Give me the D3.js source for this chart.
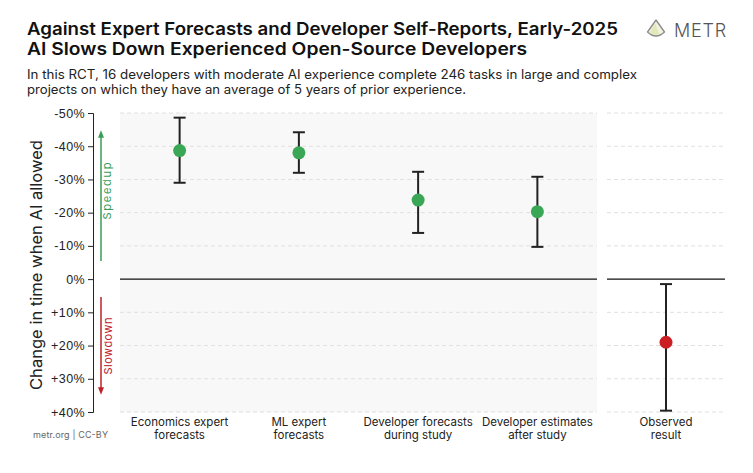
<!DOCTYPE html>
<html>
<head>
<meta charset="utf-8">
<script src="https://cdn.jsdelivr.net/npm/d3@7"></script>
<style>
  body { margin: 0; background: #fff; }
  svg { font-family: "Inter", "Noto Sans", sans-serif; }
</style>
</head>
<body>
<svg width="753" height="473"></svg>
<script>
// forecasts / estimates (negative = speedup)
var categories = ["Economics expert\nforecasts", "ML expert\nforecasts", "Developer forecasts\nduring study", "Developer estimates\nafter study"];
var values = [-38.7, -38.0, -23.8, -20.3];
var lows = [-48.6, -44.2, -32.3, -30.8];
var highs = [-29.0, -32.0, -13.9, -9.7];

// observed result
var obsCategory = ["Observed\nresult"];
var obsValue = [19];
var obsLow = [1.5];
var obsHigh = [39.6];

var yTicks = [-50, -40, -30, -20, -10, 0, 10, 20, 30, 40];

var svg = d3.select("svg");

var y = d3.scaleLinear().domain([-50, 40]).range([113, 412]);
var x1 = d3.scaleBand().domain(categories).range([120, 597]);
var x2 = d3.scaleBand().domain(obsCategory).range([607, 725]);

/* title and subtitle */
svg.append("text").attr("x", 27).attr("y", 35).text("Against Expert Forecasts and Developer Self-Reports, Early-2025")
  .style("font-size", "17px").style("font-weight", 600).style("fill", "#111")
  .attr("textLength", 591).attr("lengthAdjust", "spacingAndGlyphs");
svg.append("text").attr("x", 27).attr("y", 55).text("AI Slows Down Experienced Open-Source Developers")
  .style("font-size", "17px").style("font-weight", 600).style("fill", "#111")
  .attr("textLength", 500).attr("lengthAdjust", "spacingAndGlyphs");
svg.append("text").attr("x", 27).attr("y", 79).text("In this RCT, 16 developers with moderate AI experience complete 246 tasks in large and complex")
  .style("font-size", "12.5px").style("fill", "#222")
  .attr("textLength", 610).attr("lengthAdjust", "spacingAndGlyphs");
svg.append("text").attr("x", 27).attr("y", 94).text("projects on which they have an average of 5 years of prior experience.")
  .style("font-size", "12.5px").style("fill", "#222")
  .attr("textLength", 439).attr("lengthAdjust", "spacingAndGlyphs");

/* logo */
var logo = svg.append("g").attr("transform", "translate(656,20)");
logo.append("path").attr("d", "M0,0 L-8.5,12 Q0,20 8.5,12 Z").style("fill", "#f3f2de").style("stroke", "#8a8a8a").style("stroke-width", 1.3).style("stroke-linejoin", "round");
logo.append("path").attr("d", "M-1,3 L-6,12.5 Q-1,16 3,14 Z").style("fill", "#e3e8b8");
svg.append("text").attr("x", 674).attr("y", 37).text("METR")
  .style("font-size", "18px").style("font-weight", 300).style("fill", "#555").style("letter-spacing", "0.8px");

/* panels */
svg.append("rect").attr("x", 120).attr("y", y(-50)).attr("width", 477).attr("height", y(40) - y(-50)).style("fill", "#f8f8f8");
svg.append("rect").attr("x", 607).attr("y", y(-50)).attr("width", 118).attr("height", y(40) - y(-50)).style("fill", "#fff");

// gridlines
[[120, 597], [607, 725]].forEach(function(r){
  svg.selectAll(null).data(yTicks.filter(function(t){ return t != 0; })).enter().append("line")
    .attr("x1", r[0]).attr("x2", r[1]).attr("y1", function(d){ return y(d); }).attr("y2", function(d){ return y(d); })
    .style("stroke", "#e0e0e0").style("stroke-dasharray", "4,3").style("stroke-width", 1);
  svg.append("line").attr("x1", r[0]).attr("x2", r[1]).attr("y1", y(0)).attr("y2", y(0))
    .style("stroke", "#111").style("stroke-width", 1.3);
});

/* y axis */
var yAxis = d3.axisLeft(y).tickValues(yTicks).tickSize(5).tickPadding(3)
  .tickFormat(function(d){ return (d > 0 ? "+" : "") + d + "%"; });
var ya = svg.append("g").attr("transform", "translate(93,0)").call(yAxis);
ya.selectAll("text").style("font-size", "12.5px").style("fill", "#222").style("letter-spacing", "0.4px");
ya.selectAll("line, path").style("stroke", "#222");

svg.append("text").attr("transform", "translate(42,265) rotate(-90)").attr("text-anchor", "middle")
  .text("Change in time when AI allowed").style("font-size", "16px").style("fill", "#222")
  .attr("textLength", 250).attr("lengthAdjust", "spacingAndGlyphs");

/* speedup / slowdown arrows */
svg.append("defs").html(
  '<marker id="ag" viewBox="0 0 10 10" refX="5" refY="5" markerWidth="5" markerHeight="5" orient="auto"><path d="M0,1 L10,5 L0,9 Z" fill="#3a9d57"/></marker>' +
  '<marker id="ar" viewBox="0 0 10 10" refX="5" refY="5" markerWidth="5" markerHeight="5" orient="auto"><path d="M0,1 L10,5 L0,9 Z" fill="#c0202a"/></marker>');
svg.append("line").attr("x1", 101).attr("x2", 101).attr("y1", 261).attr("y2", 134)
  .style("stroke", "#3a9d57").style("stroke-width", 1.5).attr("marker-end", "url(#ag)");
svg.append("line").attr("x1", 101).attr("x2", 101).attr("y1", 297).attr("y2", 391)
  .style("stroke", "#c0202a").style("stroke-width", 1.5).attr("marker-end", "url(#ar)");
svg.append("text").attr("transform", "translate(111,191) rotate(-90)").attr("text-anchor", "middle")
  .text("Speedup").style("font-size", "11px").style("fill", "#3a9d57").attr("textLength", 57);
svg.append("text").attr("transform", "translate(112,346) rotate(-90)").attr("text-anchor", "middle")
  .text("Slowdown").style("font-size", "11px").style("fill", "#c0202a").attr("textLength", 57);

/* error bars and points */
function drawSeries(xs, cats, vals, lo, hi, color){
  var g = svg.append("g");
  cats.forEach(function(c, i){
    var cx = xs(c) + xs.bandwidth() / 2;
    g.append("line").attr("x1", cx).attr("x2", cx).attr("y1", y(lo[i])).attr("y2", y(hi[i]))
      .style("stroke", "#222").style("stroke-width", 2);
    [lo[i], hi[i]].forEach(function(v){
      g.append("line").attr("x1", cx - 6).attr("x2", cx + 6).attr("y1", y(v)).attr("y2", y(v))
        .style("stroke", "#222").style("stroke-width", 2);
    });
    g.append("circle").attr("cx", cx).attr("cy", y(vals[i])).attr("r", 6.5).style("fill", color);
    // category label
    var t = svg.append("text").attr("x", cx).attr("y", 426).attr("text-anchor", "middle")
      .style("font-size", "11.5px").style("fill", "#222");
    c.split("\n").forEach(function(line, k){
      t.append("tspan").attr("x", cx).attr("dy", k == 0 ? 0 : 12.5).text(line);
    });
  });
}
drawSeries(x1, categories, values, lows, highs, "#3aa757");
drawSeries(x2, obsCategory, obsValue, obsLow, obsHigh, "#cc1f24");

svg.append("text").attr("x", 33).attr("y", 438).text("metr.org  |  CC-BY")
  .style("font-size", "9px").style("fill", "#666").attr("textLength", 75);
</script>
</body>
</html>
